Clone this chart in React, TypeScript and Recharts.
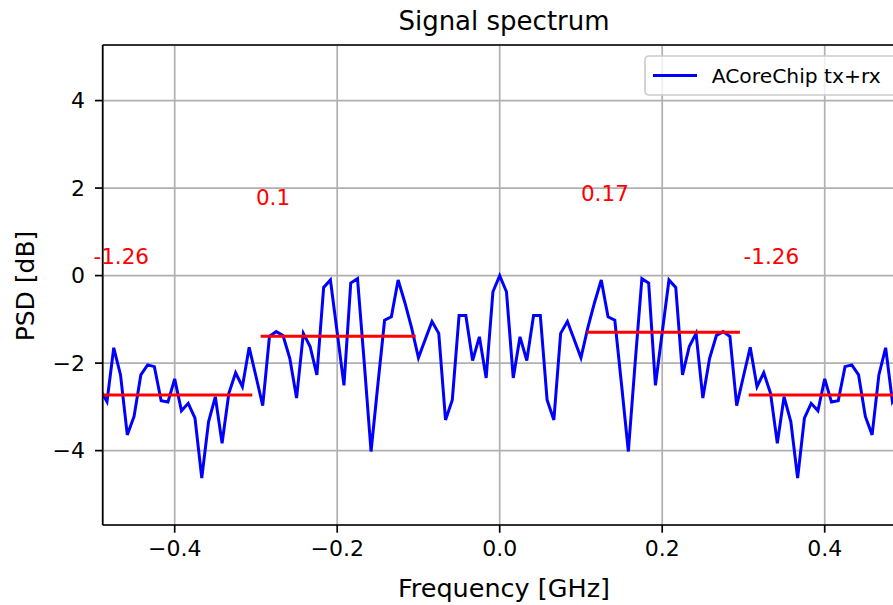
import React from 'react';
import { LineChart, Line, XAxis, YAxis, CartesianGrid, ReferenceLine, ReferenceDot } from 'recharts';

// Frequency grid (GHz): uniform bins, first bin index and step
const FREQ_STEP_GHZ = 1 / 120;
const FIRST_BIN = -59;

// PSD values [dB], bins -59 .. 59
const PSD_DB = [
  -2.61, -2.88, -1.65, -2.27, -3.64, -3.22, -2.27, -2.04, -2.08, -2.86,
  -2.89, -2.36, -3.09, -2.92, -3.26, -4.63, -3.34, -2.77, -3.83, -2.69,
  -2.22, -2.54, -1.64, -2.30, -2.97, -1.39, -1.28, -1.37, -1.89, -2.80,
  -1.32, -1.62, -2.27, -0.27, -0.10, -1.30, -2.51, -0.17, -0.07, -2.00,
  -4.02, -2.50, -1.02, -0.94, -0.10, -0.62, -1.20, -1.88, -1.46, -1.05,
  -1.32, -3.30, -2.84, -0.91, -0.91, -1.94, -1.40, -2.34, -0.37,
  0.0,
  -0.37, -2.34, -1.40, -1.94, -0.91, -0.91, -2.84, -3.30, -1.32,
  -1.05, -1.46, -1.88, -1.20, -0.62, -0.10, -0.94, -1.02, -2.50, -4.02,
  -2.00, -0.07, -0.17, -2.51, -1.30, -0.10, -0.27, -2.27, -1.62, -1.32,
  -2.80, -1.89, -1.37, -1.28, -1.39, -2.97, -2.30, -1.64, -2.54, -2.22,
  -2.69, -3.83, -2.77, -3.34, -4.63, -3.26, -2.92, -3.09, -2.36, -2.89,
  -2.86, -2.08, -2.04, -2.27, -3.22, -3.64, -2.27, -1.65, -2.88, -2.61,
];

// Band mean levels (red segments)
const BAND_START = [-0.5, -0.2942, 0.1072, 0.3065];
const BAND_END = [-0.3045, -0.1034, 0.2957, 0.5];
const BAND_LEVEL = [-2.73, -1.387, -1.295, -2.73];

// Band annotations
const NOTE_X = [-0.5, -0.3, 0.1, 0.3];
const NOTE_Y = [0.27, 1.613, 1.705, 0.27];
const NOTE_TEXT = ['-1.26', '0.1', '0.17', '-1.26'];

const X_TICKS = [-0.4, -0.2, 0.0, 0.2, 0.4];
const Y_TICKS = [-4, -2, 0, 2, 4];
const X_DOMAIN: [number, number] = [-0.4886, 0.4886];
const Y_DOMAIN: [number, number] = [-5.7, 5.27];

const TITLE = 'Signal spectrum';
const X_LABEL = 'Frequency [GHz]';
const Y_LABEL = 'PSD [dB]';
const SERIES_NAME = 'ACoreChip tx+rx';

const data = PSD_DB.map((v, i) => ({ f: (FIRST_BIN + i) * FREQ_STEP_GHZ, psd: v }));

const FONT = 'DejaVu Sans';

const fmtX = (v: number) => (v < 0 ? '\u2212' + Math.abs(v).toFixed(1) : v.toFixed(1));
const fmtY = (v: number) => (v < 0 ? '\u2212' + Math.abs(v) : String(v));

export default function App() {
  return (
    <div
      style={{
        position: 'absolute',
        left: 0,
        top: 0,
        width: 893,
        height: 605,
        overflow: 'hidden',
        background: '#fff',
      }}
    >
      <LineChart
        width={900}
        height={605}
        data={data}
        margin={{ top: 45, right: 3.3, bottom: 0, left: 0 }}
      >
        <CartesianGrid stroke="#b0b0b0" strokeWidth={1.7} horizontalPoints={undefined} />
        <XAxis
          dataKey="f"
          type="number"
          domain={X_DOMAIN}
          ticks={X_TICKS}
          allowDataOverflow
          height={80}
          tickFormatter={fmtX}
          tickSize={7.7}
          tickMargin={8}
          interval={0}
          axisLine={{ stroke: '#000', strokeWidth: 1.7 }}
          tickLine={{ stroke: '#000', strokeWidth: 1.7 }}
          tick={{ fill: '#000', fontSize: 22, fontFamily: FONT }}
        />
        <YAxis
          type="number"
          domain={Y_DOMAIN}
          ticks={Y_TICKS}
          allowDataOverflow
          width={102.7}
          tickFormatter={fmtY}
          tickSize={7.7}
          tickMargin={10}
          interval={0}
          axisLine={{ stroke: '#000', strokeWidth: 1.7 }}
          tickLine={{ stroke: '#000', strokeWidth: 1.7 }}
          tick={{ fill: '#000', fontSize: 22, fontFamily: FONT }}
        />
        <Line
          type="linear"
          dataKey="psd"
          name={SERIES_NAME}
          stroke="#0000ff"
          strokeWidth={3}
          dot={false}
          activeDot={false}
          isAnimationActive={false}
        />
        {BAND_LEVEL.map((lv, i) => (
          <ReferenceLine
            key={'b' + i}
            segment={[
              { x: BAND_START[i], y: lv },
              { x: BAND_END[i], y: lv },
            ]}
            stroke="#ff0000"
            strokeWidth={3}
            ifOverflow="hidden"
          />
        ))}
        <ReferenceLine y={Y_DOMAIN[1]} stroke="#000" strokeWidth={1.7} ifOverflow="visible" />
        {NOTE_TEXT.map((t, i) => (
          <ReferenceDot
            key={'n' + i}
            x={NOTE_X[i]}
            y={NOTE_Y[i]}
            r={0}
            ifOverflow="visible"
            shape={(p: any) => (
              <text x={p.cx} y={p.cy} fill="#ff0000" fontSize={21.5} fontFamily={FONT}>
                {t}
              </text>
            )}
          />
        ))}
      </LineChart>
      <svg
        width={893}
        height={605}
        style={{ position: 'absolute', left: 0, top: 0, pointerEvents: 'none' }}
      >
        <text x={504} y={30} textAnchor="middle" fontSize={26} fontFamily={FONT} fill="#000">
          {TITLE}
        </text>
        <text x={504} y={597} textAnchor="middle" fontSize={25.5} fontFamily={FONT} fill="#000">
          {X_LABEL}
        </text>
        <text
          x={25}
          y={286}
          textAnchor="middle"
          dy="0.35em"
          fontSize={25}
          fontFamily={FONT}
          fill="#000"
          transform="rotate(-90 25 286)"
        >
          {Y_LABEL}
        </text>
        <rect x={645} y={56} width={262} height={39} rx={4} ry={4} fill="#fff" fillOpacity={0.8} stroke="#cccccc" strokeWidth={1.7} />
        <line x1={653} y1={75.5} x2={697} y2={75.5} stroke="#0000ff" strokeWidth={3} />
        <text x={711.7} y={82.7} fontSize={20.3} fontFamily={FONT} fill="#000">
          {SERIES_NAME}
        </text>
      </svg>
    </div>
  );
}
